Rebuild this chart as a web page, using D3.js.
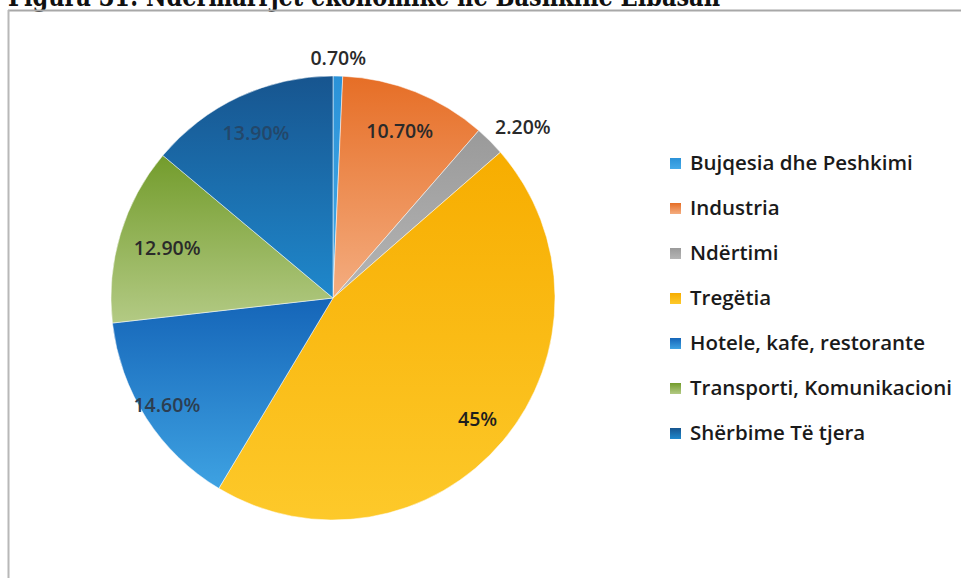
<!DOCTYPE html>
<html>
<head>
  <meta charset="utf-8">
  <title>Ndërmarrjet ekonomike në Bashkinë Elbasan</title>
  <script src="https://d3js.org/d3.v7.min.js"></script>
  <style>
    body { margin: 0; background: #fff; }
    svg { display: block; }
    .lbl { font-family: "Open Sans", sans-serif; font-size: 19.5px; font-weight: 600; }
    .leg text { font-family: "Open Sans", sans-serif; font-size: 20.5px; font-weight: 600; fill: #1a1a1a; }
  </style>
</head>
<body>
<div id="output"></div>

<script>
  // data
  var categories = ["Bujqesia dhe Peshkimi", "Industria", "Ndërtimi", "Tregëtia",
                    "Hotele, kafe, restorante", "Transporti, Komunikacioni", "Shërbime Të tjera"];
  var values = [0.7, 10.7, 2.2, 45, 14.6, 12.9, 13.9];
  var valueLabels = ["0.70%", "10.70%", "2.20%", "45%", "14.60%", "12.90%", "13.90%"];

  // top / bottom colour of each slice gradient
  var topColors = ["#2a92d8", "#e66e26", "#9a9a9a", "#f7ad00", "#1565b8", "#739c2c", "#17558f"];
  var bottomColors = ["#45aae8", "#f4ad80", "#b5b5b5", "#fdc92a", "#3ea2e2", "#b3ca84", "#1f88cc"];
  var labelColors = ["#2a2a2a", "#2a2a2a", "#2a2a2a", "#1e1e1e", "#2c3e52", "#2a2a2a", "#23476a"];
  // label distance from centre, as a fraction of the radius
  var labelRadius = [1.08, 0.81, 1.12, 0.85, 0.89, 0.78, 0.82];

  var w = 961, h = 578;
  var cx = 333, cy = 298, r = 222;

  var svg = d3.select("#output").append("svg")
      .attr("width", w)
      .attr("height", h);

  // title, cut off by the top edge as in the scan
  svg.append("text")
      .attr("x", 8)
      .attr("y", 6)
      .attr("textLength", 712)
      .attr("lengthAdjust", "spacingAndGlyphs")
      .style("font-family", "'DejaVu Serif', serif")
      .style("font-weight", "bold")
      .style("font-size", "27px")
      .style("fill", "#111")
      .text("Figura 31: Ndërmarrjet ekonomike në Bashkinë Elbasan");

  // frame
  svg.append("line").attr("x1", 8).attr("x2", w).attr("y1", 10.5).attr("y2", 10.5)
      .attr("stroke", "#a8a8a8").attr("stroke-width", 2);
  svg.append("line").attr("x1", 8.5).attr("x2", 8.5).attr("y1", 10).attr("y2", h)
      .attr("stroke", "#b8b8b8").attr("stroke-width", 2);

  var defs = svg.append("defs");
  categories.forEach(function(c, i) {
    var g = defs.append("linearGradient")
        .attr("id", "grad" + i)
        .attr("x1", 0).attr("y1", 0).attr("x2", 0).attr("y2", 1);
    g.append("stop").attr("offset", "0%").attr("stop-color", topColors[i]);
    g.append("stop").attr("offset", "100%").attr("stop-color", bottomColors[i]);
  });

  var pie = d3.pie().sort(null).value(function(d) { return d; });
  var arcs = pie(values);

  var arc = d3.arc().innerRadius(0).outerRadius(r);

  var chart = svg.append("g")
      .attr("transform", "translate(" + cx + "," + cy + ")");

  chart.selectAll(".slice")
      .data(arcs)
      .enter()
      .append("path")
      .attr("class", "slice")
      .attr("d", arc)
      .attr("fill", function(d, i) { return "url(#grad" + i + ")"; })
      .attr("stroke", "rgba(255,255,255,0.5)")
      .attr("stroke-width", 1);

  chart.selectAll(".lbl")
      .data(arcs)
      .enter()
      .append("text")
      .attr("class", "lbl")
      .attr("transform", function(d, i) {
        var a = (d.startAngle + d.endAngle) / 2;
        var rr = r * labelRadius[i];
        var x = Math.sin(a) * rr, y = -Math.cos(a) * rr;
        if (i === 2) { x += 14; y += 5; }
        return "translate(" + x + "," + y + ")";
      })
      .attr("text-anchor", "middle")
      .attr("dy", "0.35em")
      .style("fill", function(d, i) { return labelColors[i]; })
      .text(function(d, i) { return valueLabels[i]; });

  // legend
  var legend = svg.append("g").attr("class", "leg")
      .attr("transform", "translate(670,163)");

  var rows = legend.selectAll("g")
      .data(categories)
      .enter()
      .append("g")
      .attr("transform", function(d, i) { return "translate(0," + (i * 45) + ")"; });

  rows.append("rect")
      .attr("x", 0).attr("y", -5)
      .attr("width", 11).attr("height", 11)
      .attr("fill", function(d, i) { return "url(#grad" + i + ")"; });

  rows.append("text")
      .attr("x", 20)
      .attr("dy", "0.35em")
      .text(function(d) { return d; });
</script>
</body>
</html>
